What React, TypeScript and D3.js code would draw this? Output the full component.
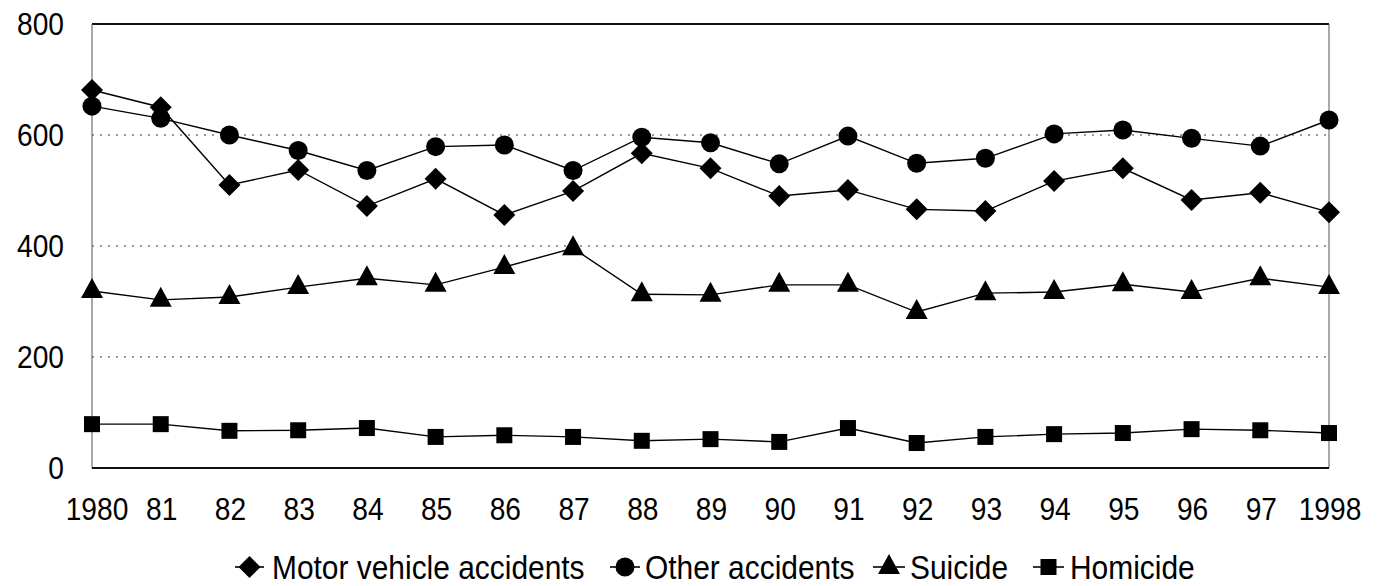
import React from "react";
import * as d3 from "d3";

const years = d3.range(1980, 1999);
const yearLabels = ["1980", "81", "82", "83", "84", "85", "86", "87", "88", "89", "90", "91", "92", "93", "94", "95", "96", "97", "1998"];
const yTicks = [0, 200, 400, 600, 800];

const motorVehicle = [681, 650, 510, 537, 472, 521, 456, 499, 567, 540, 490, 501, 466, 463, 517, 540, 483, 496, 461];
const otherAccidents = [652, 630, 600, 572, 536, 579, 582, 536, 596, 586, 548, 598, 549, 558, 602, 609, 594, 580, 627];
const suicide = [319, 303, 308, 326, 342, 330, 362, 396, 313, 312, 330, 330, 281, 315, 317, 331, 317, 342, 326];
const homicide = [79, 79, 67, 68, 72, 56, 59, 56, 49, 52, 47, 72, 45, 56, 61, 63, 70, 68, 63];

const seriesNames = ["Motor vehicle accidents", "Other accidents", "Suicide", "Homicide"];
const seriesValues = [motorVehicle, otherAccidents, suicide, homicide];
const seriesShapes = ["diamond", "circle", "triangle", "square"];

const W = 1380;
const H = 586;
const left = 92;
const right = 1329;
const top = 24;
const bottom = 468;
const FONT = "'Liberation Sans', Arial, sans-serif";

const Marker = ({ shape, x, y }: { shape: string; x: number; y: number }) => {
  if (shape === "diamond") {
    const r = 11;
    return <path d={`M${x},${y - r}L${x + r},${y}L${x},${y + r}L${x - r},${y}Z`} fill="#000" />;
  }
  if (shape === "circle") return <circle cx={x} cy={y} r={9.5} fill="#000" />;
  if (shape === "triangle") {
    return <path d={`M${x},${y - 13}L${x + 11},${y + 7}L${x - 11},${y + 7}Z`} fill="#000" />;
  }
  return <rect x={x - 8} y={y - 8} width={16} height={16} fill="#000" />;
};

const NarrowText = ({ x, y, size, anchor, children }: any) => (
  <text
    transform={`translate(${x},${y}) scale(0.88,1)`}
    fontFamily={FONT}
    fontSize={size}
    textAnchor={anchor}
    fill="#000"
  >
    {children}
  </text>
);

const legendItems = [
  { lineX: [235, 264], textX: 272 },
  { lineX: [610, 640], textX: 645 },
  { lineX: [873, 905], textX: 910 },
  { lineX: [1033, 1064], textX: 1070 },
];

export default function App() {
  const x = d3.scalePoint<number>().domain(years).range([left, right]);
  const y = d3.scaleLinear().domain([0, 800]).range([bottom, top]);
  const line = d3
    .line<number>()
    .x((_, i) => x(years[i]) as number)
    .y((d) => y(d));

  return (
    <svg width={W} height={H} style={{ position: "absolute", left: 0, top: 0, background: "#fff" }}>
      <rect x={0} y={0} width={W} height={H} fill="#fff" />
      {/* gridlines */}
      {[200, 400, 600].map((t) => (
        <line key={t} x1={left} x2={right} y1={y(t)} y2={y(t)} stroke="#333" strokeWidth={1} strokeDasharray="2,6" />
      ))}
      {/* plot frame */}
      <line x1={left} x2={right} y1={top} y2={top} stroke="#111" strokeWidth={1.8} />
      <line x1={left} x2={left} y1={top} y2={bottom} stroke="#555" strokeWidth={1} />
      <line x1={right} x2={right} y1={top} y2={bottom} stroke="#555" strokeWidth={1} />
      <line x1={left} x2={right} y1={bottom} y2={bottom} stroke="#111" strokeWidth={1.8} />

      {/* y labels */}
      {yTicks.map((t) => (
        <NarrowText key={t} x={64} y={y(t) + 11} size={32} anchor="end">
          {t}
        </NarrowText>
      ))}
      {/* x labels */}
      {years.map((yr, i) => (
        <NarrowText key={yr} x={(x(yr) as number) + (i === 0 ? 5 : 1)} y={520} size={32} anchor="middle">
          {yearLabels[i]}
        </NarrowText>
      ))}

      {/* series */}
      {seriesValues.map((vals, si) => (
        <g key={si}>
          <path d={line(vals) || ""} fill="none" stroke="#000" strokeWidth={1.4} />
          {vals.map((v, i) => (
            <Marker key={i} shape={seriesShapes[si]} x={x(years[i]) as number} y={y(v)} />
          ))}
        </g>
      ))}

      {/* legend */}
      {legendItems.map((it, i) => (
        <g key={i}>
          <line x1={it.lineX[0]} x2={it.lineX[1]} y1={567} y2={567} stroke="#000" strokeWidth={1.6} />
          <Marker shape={seriesShapes[i]} x={(it.lineX[0] + it.lineX[1]) / 2} y={567} />
          <NarrowText x={it.textX} y={579} size={34} anchor="start">
            {seriesNames[i]}
          </NarrowText>
        </g>
      ))}
    </svg>
  );
}
